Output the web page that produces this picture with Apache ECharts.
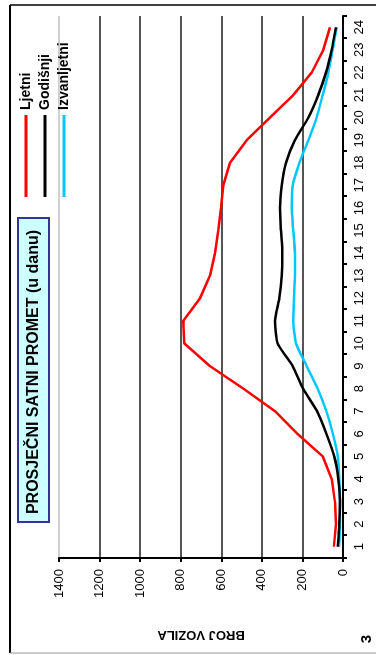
<!DOCTYPE html>
<html><head><meta charset="utf-8">
<script src="https://cdn.jsdelivr.net/npm/echarts@6/dist/echarts.min.js"></script>
<style>
html,body{margin:0;padding:0;width:376px;height:655px;overflow:hidden;background:#fff;}
#chart{position:absolute;left:0;top:0;width:655px;height:376px;transform-origin:0 0;transform:translateY(655px) rotate(-90deg);}
</style></head><body><div id="chart"></div>
<script>
const hours = ['1','2','3','4','5','6','7','8','9','10','11','12','13','14','15','16','17','18','19','20','21','22','23','24'];
const ljetni = [45,35,40,56,100,225,335,491,656,782,787,705,656,631,615,601,590,557,475,360,245,154,97,64];
const godisnji = [26,18,15,23,43,82,128,197,248,322,335,314,302,299,306,311,302,281,237,171,122,84,56,35];
const izvanljetni = [20,15,15,18,26,50,82,125,179,232,245,242,237,237,245,253,248,215,171,130,100,72,51,31];
const seriesNames = ['Ljetni','Godišnji','Izvanljetni'];
const titleText = 'PROSJEČNI SATNI PROMET (u danu)';
const axisName = 'BROJ VOZILA';
const pageNo = '3';

const FONT = 'Arial, "Liberation Sans", sans-serif';
const chart = echarts.init(document.getElementById('chart'), null, {renderer:'canvas'});
chart.setOption({
  animation:false,
  backgroundColor:'#fff',
  textStyle:{fontFamily:FONT},
  grid:{left:97,right:16,top:59,bottom:33,containLabel:false},
  legend:{
    orient:'vertical', left:458, top:18, padding:0, itemGap:3,
    icon:'rect', itemWidth:82, itemHeight:3,
    data:seriesNames,
    textStyle:{fontFamily:FONT,fontSize:14,fontWeight:'bold',color:'#000',lineHeight:16}
  },
  xAxis:{
    type:'category', data:hours, boundaryGap:true,
    axisLine:{show:true,lineStyle:{color:'#000',width:2}},
    axisTick:{show:true,interval:0,length:4,inside:false,lineStyle:{color:'#000',width:2}},
    axisLabel:{interval:0,margin:10,fontSize:13,color:'#000',fontFamily:FONT},
    splitLine:{show:false}
  },
  yAxis:{
    type:'value', min:0, max:1400, interval:200,
    name:axisName, nameLocation:'middle', nameRotate:90, nameGap:70,
    nameTextStyle:{fontFamily:FONT,fontSize:13,fontWeight:'bold',color:'#000'},
    axisLine:{show:true,lineStyle:{color:'#000',width:2}},
    axisTick:{show:true,length:4,inside:false,lineStyle:{color:'#000',width:2}},
    axisLabel:{margin:11,fontSize:13,color:'#000',fontFamily:FONT,formatter:function(v){return String(v);}},
    splitLine:{show:true,lineStyle:{color:['#555','#555','#555','#555','#555','#555','#555','#d0d0d0'],width:2}}
  },
  series:[
    {name:seriesNames[0],type:'line',data:ljetni,symbol:'none',smooth:false,color:'#ff0000',lineStyle:{width:2.5,color:'#ff0000'},z:3},
    {name:seriesNames[1],type:'line',data:godisnji,symbol:'none',smooth:0.2,color:'#000000',lineStyle:{width:2.5,color:'#000000'},z:4},
    {name:seriesNames[2],type:'line',data:izvanljetni,symbol:'none',smooth:0.2,color:'#00c8ff',lineStyle:{width:2.5,color:'#00c8ff'},z:2}
  ],
  graphic:[
    {type:'line',shape:{x1:2,y1:10,x2:650,y2:10},style:{stroke:'#000',lineWidth:2},silent:true},
    {type:'line',shape:{x1:650,y1:10,x2:650,y2:380},style:{stroke:'#000',lineWidth:1.5},silent:true},
    {type:'line',shape:{x1:2,y1:10,x2:2,y2:380},style:{stroke:'#999',lineWidth:1},silent:true},
    {type:'rect',shape:{x:133,y:18,width:304,height:31},style:{fill:'#ccffff',stroke:'#333399',lineWidth:2},z:10,silent:true},
    {type:'text',x:283,y:33.5,style:{text:titleText,font:'bold 16px '+FONT,fill:'#000',align:'center',verticalAlign:'middle'},z:11,silent:true},
    {type:'text',x:16,y:367,style:{text:pageNo,font:'bold 15px '+FONT,fill:'#000',align:'center',verticalAlign:'middle'},z:11,silent:true}
  ]
});
</script></body></html>
